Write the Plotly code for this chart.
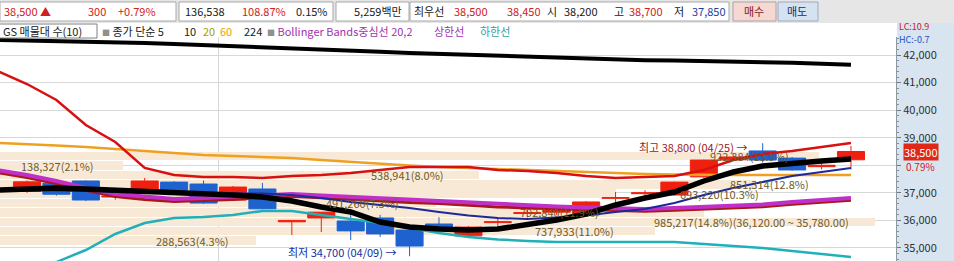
import plotly.graph_objects as go

# ---------------- data ----------------
IDX = list(range(29))
OPEN  = [37050, 37350, 37430, 36850, 36995, 37390, 37320, 36740, 37140, 35950, 36090, 35980, 36090, 35650, 35870,
         35440, 35920, 36250, 36300, 36200, 36800, 36970, 36920, 37580, 38200, 38520, 38260, 37950, 38200]
HIGH  = [37450, 37400, 37450, 36950, 37540, 37420, 37450, 37250, 37360, 36000, 36300, 36300, 36200, 35800, 36120,
         35800, 36090, 36400, 36450, 36700, 37030, 37100, 37400, 38200, 38400, 38800, 38300, 38100, 38700]
LOW   = [37000, 36900, 36700, 36750, 36950, 37000, 36600, 36700, 36400, 35470, 35580, 35290, 35400, 34700, 35600,
         35400, 35650, 36100, 36200, 36150, 36560, 36900, 36900, 37550, 38150, 38100, 37800, 37850, 37850]
CLOSE = [37400, 36950, 36740, 36880, 37430, 37050, 36630, 37210, 36420, 36000, 36300, 35620, 35510, 35070, 35730,
         35760, 35950, 36280, 36380, 36670, 36830, 37000, 37390, 38190, 38300, 38190, 37830, 38000, 38500]

LINE_IDX = list(range(-1, 29))
MA224  = [42544, 42526, 42508, 42482, 42460, 42432, 42399, 42363, 42326, 42294, 42258, 42210, 42163, 42120, 42076,
          42040, 42000, 41975, 41942, 41913, 41884, 41837, 41811, 41797, 41782, 41768, 41746, 41717, 41681, 41645]
BB_UP  = [41420, 40948, 40368, 39461, 38844, 37902, 37648, 37575, 37575, 37539, 37611, 37648, 37720, 37829, 37938,
          37938, 37938, 37829, 37793, 37720, 37611, 37539, 37575, 37611, 37829, 38192, 38409, 38518, 38663, 38808]
MA60   = [38808, 38772, 38718, 38663, 38591, 38518, 38464, 38373, 38337, 38300, 38264, 38192, 38119, 38047, 37992,
          37938, 37902, 37847, 37811, 37775, 37738, 37702, 37684, 37666, 37648, 37648, 37648, 37648, 37648, 37648]
MA20   = [37740, 37560, 37340, 37090, 36870, 36760, 36690, 36720, 36760, 36830, 36870, 36820, 36760, 36710, 36650,
          36610, 36540, 36490, 36450, 36420, 36380, 36350, 36330, 36370, 36410, 36450, 36500, 36590, 36660, 36730]
BB_MID = [37829, 37648, 37430, 37176, 36959, 36850, 36777, 36813, 36850, 36922, 36959, 36904, 36850, 36795, 36741,
          36704, 36632, 36578, 36541, 36505, 36469, 36433, 36414, 36451, 36487, 36523, 36578, 36668, 36741, 36813]
MA10   = [37104, 37104, 37086, 37068, 37031, 37013, 36995, 36995, 36995, 36977, 36922, 36813, 36668, 36560, 36451,
          36306, 36179, 36088, 36052, 36106, 36179, 36306, 36414, 36632, 36922, 37176, 37394, 37611, 37756, 37902]
MA5    = [37104, 37140, 37176, 37140, 37104, 37031, 36995, 36959, 36922, 36850, 36705, 36487, 36306, 35943, 35762,
          35689, 35653, 35689, 35834, 36015, 36233, 36560, 36813, 37031, 37430, 37756, 37974, 38083, 38156, 38228]
BB_LOW = [34240, 34350, 34490, 34927, 35507, 35907, 36088, 36124, 36197, 36342, 36342, 36197, 36052, 35907, 35725,
          35544, 35399, 35308, 35254, 35217, 35217, 35217, 35217, 35217, 35145, 35073, 35000, 34891, 34782, 34674]

VP_LOW  = [35100, 35440, 35780, 36120, 36460, 36800, 37140, 37480, 37820, 38160]
VP_HIGH = [35440, 35780, 36120, 36460, 36800, 37140, 37480, 37820, 38160, 38500]
VP_VOL  = [288563, 737933, 985217, 792840, 491260, 693220, 851314, 538941, 138327, 922384]
VP_PCT  = [4.3, 11.0, 14.8, 11.9, 7.3, 10.3, 12.8, 8.0, 2.1, 13.9]

Y_TICKS = [35000, 36000, 37000, 38000, 39000, 40000, 41000, 42000]
Y_TICK_TEXT = ["35,000", "36,000", "37,000", "", "39,000", "40,000", "41,000", "42,000"]

LOW_MARK = (13, 34700, "최저 34,700 (04/09) →")
HIGH_MARK = (25, 38800, "최고 38,800 (04/25) →")

W, H = 954, 261
PL, PR, PT, PB = 0, 58, 37, 0
PW = W - PL - PR
PH = H - PT - PB


def px(x):
    return (x - PL) / PW


def py(y):
    return (H - PB - y) / PH


FONT = "Noto Sans CJK KR"

fig = go.Figure()

# volume-by-price bars (base x axis)
vp_center = [(a + b) / 2 for a, b in zip(VP_LOW, VP_HIGH)]
vp_width = [(b - a) * 0.9 for a, b in zip(VP_LOW, VP_HIGH)]
fig.add_trace(go.Bar(x=VP_VOL, y=vp_center, width=vp_width, orientation="h",
                     marker=dict(color="#F8E9D6", line=dict(width=0)),
                     xaxis="x", yaxis="y", hoverinfo="skip", showlegend=False))

# moving averages / bands on overlay axis
def line(vals, color, width):
    fig.add_trace(go.Scatter(x=LINE_IDX, y=vals, mode="lines",
                             line=dict(color=color, width=width),
                             xaxis="x2", yaxis="y", hoverinfo="skip", showlegend=False))

line(MA224, "#000000", 4)
line(MA60, "#F0A020", 2.5)
line(BB_UP, "#D81010", 2.5)
line(BB_LOW, "#22B0B8", 2.5)
line(MA20, "#A81818", 3)
line(BB_MID, "#C030C8", 4)
line(MA10, "#1A2A9A", 2)
line(MA5, "#000000", 5.5)

fig.add_trace(go.Candlestick(x=IDX, open=OPEN, high=HIGH, low=LOW, close=CLOSE,
                             xaxis="x2", yaxis="y",
                             increasing=dict(line=dict(color="#F02010", width=1), fillcolor="#F02010"),
                             decreasing=dict(line=dict(color="#1E62D0", width=1), fillcolor="#1E62D0"),
                             whiskerwidth=0, hoverinfo="skip", showlegend=False))

ann = []
shapes = []

# volume profile labels (right edge of each label, in screen pixels)
LABEL_RIGHT = [230, 615, 850, 600, 400, 760, 810, 445, 95, 790]
vmax = max(VP_VOL)
for c, v, p, lo, hi, r in zip(vp_center, VP_VOL, VP_PCT, VP_LOW, VP_HIGH, LABEL_RIGHT):
    t = f"{v:,}({p:.1f}%)"
    if v == vmax:
        t += f"({hi:,.2f} ~ {lo:,.2f})"
    ann.append(dict(x=px(r), y=c, xref="paper", yref="y", text=t, showarrow=False, xanchor="right",
                    borderpad=0, font=dict(family=FONT, size=11, color="#6E5A28")))

# low/high marks
ann.append(dict(x=LOW_MARK[0] - 0.4, y=LOW_MARK[1], xref="x2", yref="y", text=LOW_MARK[2],
                showarrow=False, xanchor="right", yanchor="middle", yshift=4,
                font=dict(family=FONT, size=11, color="#1030A0")))
ann.append(dict(x=HIGH_MARK[0] - 0.5, y=HIGH_MARK[1], xref="x2", yref="y", text=HIGH_MARK[2],
                showarrow=False, xanchor="right", yanchor="middle", yshift=-4, borderpad=0,
                font=dict(family=FONT, size=11, color="#A01818")))

# header bar
shapes.append(dict(type="rect", xref="paper", yref="paper", x0=px(0), x1=px(W), y0=py(23), y1=py(0),
                   fillcolor="#E6E6E6", line=dict(width=0), layer="above"))
for x0, x1 in [(0, 176), (179, 333), (336, 409), (410, 729)]:
    shapes.append(dict(type="rect", xref="paper", yref="paper", x0=px(x0), x1=px(x1), y0=py(21), y1=py(2),
                       fillcolor="#FFFFFF", line=dict(color="#A8A8A8", width=1), layer="above"))
shapes.append(dict(type="rect", xref="paper", yref="paper", x0=px(733), x1=px(776), y0=py(21), y1=py(2),
                   fillcolor="#F6D8D2", line=dict(color="#B0A0A0", width=1), layer="above"))
shapes.append(dict(type="rect", xref="paper", yref="paper", x0=px(778), x1=px(818), y0=py(21), y1=py(2),
                   fillcolor="#D4E2F2", line=dict(color="#A0A8B8", width=1), layer="above"))
# right axis column
shapes.append(dict(type="rect", xref="paper", yref="paper", x0=px(897), x1=px(W), y0=py(H), y1=py(23),
                   fillcolor="#D8E4F0", line=dict(width=0), layer="below"))
# legend row box
shapes.append(dict(type="rect", xref="paper", yref="paper", x0=px(-2), x1=px(97), y0=py(38), y1=py(24),
                   fillcolor="rgba(0,0,0,0)", line=dict(color="#808080", width=1), layer="above"))

RED, BLUE, BLK = "#D02020", "#2040A0", "#202020"
header = [(2, "38,500 ▲", RED), (86, "300", RED), (116, "+0.79%", RED), (183, "136,538", BLK),
          (240, "108.87%", RED), (294, "0.15%", BLK), (352, "5,259백만", BLK), (412, "최우선", BLK),
          (452, "38,500", RED), (505, "38,450", RED), (545, "시", BLK), (562, "38,200", BLK),
          (612, "고", BLK), (627, "38,700", RED), (672, "저", BLK), (690, "37,850", BLUE),
          (742, "매수", "#802020"), (785, "매도", "#203070")]
for x, t, col in header:
    ann.append(dict(x=px(x), y=py(11.5), xref="paper", yref="paper", text=t, showarrow=False,
                    xanchor="left", yanchor="middle", font=dict(family=FONT, size=11, color=col)))

SQ = '<span style="color:#909090;font-size:8px">■</span> '
legend = [(1, "GS 매물대 수(10)", BLK), (100, SQ + "종가 단순 5", BLK), (182, "10", BLK),
          (201, "20", "#A0A000"), (218, "60", "#F0A000"), (242, "224", BLK),
          (265, SQ + "Bollinger Bands중심선 20,2", "#A030B0"), (432, "상한선", "#A030B0"),
          (478, "하한선", "#30A0A0")]
for x, t, col in legend:
    ann.append(dict(x=px(x), y=py(31), xref="paper", yref="paper", text=t, showarrow=False,
                    xanchor="left", yanchor="middle", font=dict(family=FONT, size=11, color=col)))

ann.append(dict(x=px(898), y=py(27), xref="paper", yref="paper", text="LC:10.9", showarrow=False,
                xanchor="left", yanchor="middle", borderpad=0,
                font=dict(family=FONT, size=9, color="#D02020")))
ann.append(dict(x=px(898), y=py(40), xref="paper", yref="paper", text="HC:-0.7", showarrow=False,
                xanchor="left", yanchor="middle", borderpad=0,
                font=dict(family=FONT, size=9, color="#2050C0")))
ann.append(dict(x=px(903), y=CLOSE[-1], xref="paper", yref="y", text="38,500", showarrow=False,
                xanchor="left", yanchor="middle", bgcolor="#E02818", borderpad=0,
                font=dict(family=FONT, size=11, color="#FFFFFF")))
ann.append(dict(x=px(905), y=CLOSE[-1], xref="paper", yref="y", text="0.79%", showarrow=False,
                xanchor="left", yanchor="middle", yshift=-15, borderpad=0,
                font=dict(family=FONT, size=10, color="#D02020")))

fig.update_layout(
    width=W, height=H, margin=dict(l=PL, r=PR, t=PT, b=PB, pad=0),
    paper_bgcolor="#FFFFFF", plot_bgcolor="#FFFFFF",
    showlegend=False, boxgap=0.08, boxgroupgap=0, bargap=0,
    annotations=ann, shapes=shapes,
    xaxis=dict(range=[0, vmax * PW / 875], showticklabels=False, showgrid=False, zeroline=False,
               showline=False, fixedrange=True, rangeslider=dict(visible=False)),
    xaxis2=dict(range=[-0.917, 29.53], overlaying="x", showticklabels=False, tickvals=[6.5],
                showgrid=True, gridcolor="#D6D6D6", zeroline=False, showline=False,
                rangeslider=dict(visible=False)),
    yaxis=dict(range=[34528, 42653], side="right", tickvals=Y_TICKS, ticktext=Y_TICK_TEXT,
               showgrid=True, gridcolor="#D8D8D8", zeroline=False, ticks="outside", ticklen=4,
               tickcolor="#707880", showline=True, linecolor="#9098A0",
               minor=dict(ticks="outside", ticklen=2, dtick=200, tickcolor="#8890A0", showgrid=False),
               tickfont=dict(family=FONT, size=11, color="#303030")),
)

fig.write_html("out.html")
